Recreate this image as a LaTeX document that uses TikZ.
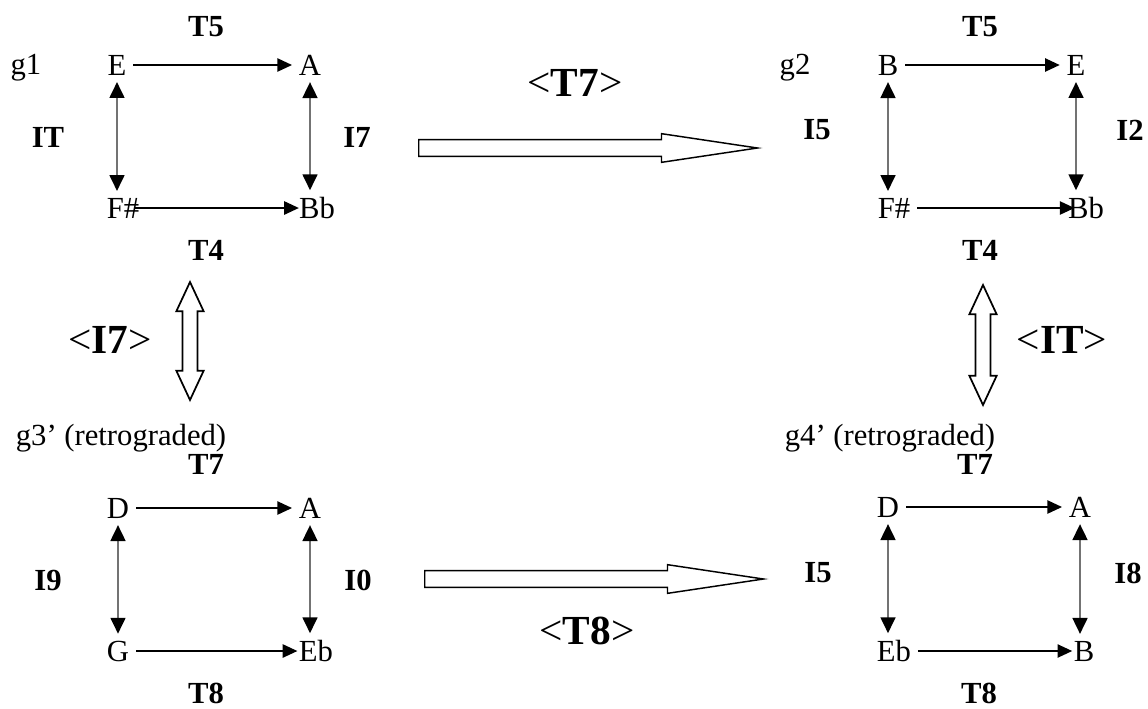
\documentclass[tikz,border=0pt]{standalone}
\usepackage{fontspec}
\setmainfont{Liberation Serif}
\usetikzlibrary{arrows.meta,shapes.arrows}

\begin{document}
\begin{tikzpicture}[x=0.75pt,y=-0.75pt,
    tone/.style={inner sep=5pt, font=\fontsize{23}{26}\selectfont},
    op/.style={inner sep=2pt, font=\fontsize{23}{26}\selectfont\bfseries},
    big/.style={inner sep=2pt, font=\fontsize{31}{34}\selectfont},
    tr/.style={-{Triangle[length=11pt,width=10pt]}, line width=1.1pt},
    inv/.style={{Triangle[length=12pt,width=11pt,color=black]}-{Triangle[length=12pt,width=11pt,color=black]}, draw=black!55, line width=2pt},
    hollow/.style={single arrow, draw, line width=1.1pt, inner sep=5.8pt, single arrow head extend=4.4pt, single arrow tip angle=17},
    hollow2/.style={double arrow, draw, line width=1.3pt, inner sep=4.9pt, double arrow head extend=4.7pt, double arrow tip angle=50}
]
\useasboundingbox (0,0) rectangle (1148,708);

% g1
\node[tone] (g1) at (26,68) {g1};
\node[tone] (g1E) at (117,65) {E};
\node[tone] (g1A) at (310,65) {A};
\node[tone] (g1F) at (123,208) {F\#};
\node[tone] (g1Bb) at (317,208) {Bb};
\node[op] at (206,27) {T5};
\node[op] at (206,250) {T4};
\node[op] at (48,137) {IT};
\node[op] at (357,137) {I7};
\draw[tr] (g1E) -- (g1A);
\draw[tr, shorten <=-8pt, shorten >=-5pt] (g1F) -- (g1Bb);
\draw[inv] (g1E) -- (g1E |- g1F.north);
\draw[inv] (g1A) -- (g1A |- g1Bb.north);

% g2
\node[tone] (g2) at (795,68) {g2};
\node[tone] (g2B) at (888,65) {B};
\node[tone] (g2E) at (1076,65) {E};
\node[tone] (g2F) at (894,208) {F\#};
\node[tone] (g2Bb) at (1086,208) {Bb};
\node[op] at (980,27) {T5};
\node[op] at (980,250) {T4};
\node[op] at (817,130) {I5};
\node[op] at (1130,130) {I2};
\draw[tr] (g2B) -- (g2E);
\draw[tr, shorten >=-10pt] (g2F) -- (g2Bb);
\draw[inv] (g2B) -- (g2B |- g2F.north);
\draw[inv] (g2E) -- (g2E |- g2Bb.north);

% g3' (retrograded)
\node[tone] (g3) at (121,438) {g3’ (retrograded)};
\node[tone] (g3D) at (118,508) {D};
\node[tone] (g3A) at (310,508) {A};
\node[tone] (g3G) at (118,651) {G};
\node[tone] (g3Eb) at (316,651) {Eb};
\node[op] at (206,464) {T7};
\node[op] at (206,693) {T8};
\node[op] at (48,580) {I9};
\node[op] at (358,580) {I0};
\draw[tr] (g3D) -- (g3A);
\draw[tr, shorten >=-4pt] (g3G) -- (g3Eb);
\draw[inv] (g3D) -- (g3D |- g3G.north);
\draw[inv] (g3A) -- (g3A |- g3Eb.north);

% g4' (retrograded)
\node[tone] (g4) at (890,438) {g4’ (retrograded)};
\node[tone] (g4D) at (888,507) {D};
\node[tone] (g4A) at (1080,507) {A};
\node[tone] (g4Eb) at (894,651) {Eb};
\node[tone] (g4B) at (1084,651) {B};
\node[op] at (975,464) {T7};
\node[op] at (979,693) {T8};
\node[op] at (818,573) {I5};
\node[op] at (1128,573) {I8};
\draw[tr] (g4D) -- (g4A);
\draw[tr, shorten >=-4pt] (g4Eb) -- (g4B);
\draw[inv] (g4D) -- (g4D |- g4Eb.north);
\draw[inv] (g4A) -- (g4A |- g4B.north);

% maps between the graphs
\node[hollow, minimum height=254pt, anchor=tail] (t7arrow) at (418,148) {};
\node[big] (t7) at (575,83) {<\textbf{T7}>};
\node[hollow, minimum height=254pt, anchor=tail] (t8arrow) at (424,579) {};
\node[big] (t8) at (587,631) {<\textbf{T8}>};
\node[hollow2, rotate=90, minimum height=88.5pt] (i7arrow) at (190,341) {};
\node[big] (i7) at (110,340) {<\textbf{I7}>};
\node[hollow2, rotate=90, minimum height=90pt] (itarrow) at (983,345) {};
\node[big] (it) at (1062,340) {<\textbf{IT}>};
\end{tikzpicture}
\end{document}
